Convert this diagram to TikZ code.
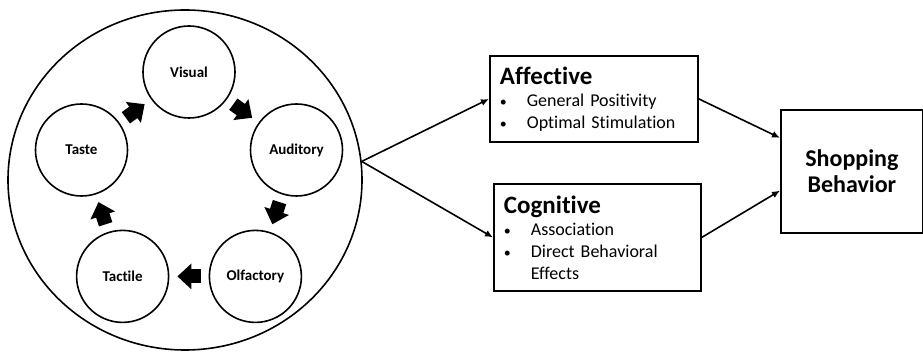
\documentclass[tikz,border=0pt]{standalone}
\usepackage{fontspec}
\setmainfont{Carlito}[Ligatures=CommonOff]
\usetikzlibrary{arrows.meta, positioning, shapes.geometric}

\newcommand{\dotitem}{{\fontsize{7}{7}\selectfont\textbullet}\hspace{10pt}}

\begin{document}
\begin{tikzpicture}[
      x=0.5pt, y=-0.5pt,
      sense/.style={circle, draw, line width=0.8pt, minimum size=46pt, inner sep=0pt, font=\fontsize{7.5}{9}\selectfont\bfseries},
      cycle/.style={line width=7pt, -{Triangle[length=7pt, width=12.5pt]}, shorten <=4pt, shorten >=4pt},
      infobox/.style={rectangle, draw, line width=0.9pt, anchor=north west, align=left, inner xsep=5pt, inner ysep=0pt, font=\fontsize{9}{11}\selectfont},
      outcome/.style={rectangle, draw, line width=0.9pt, anchor=north west, align=center, font=\fontsize{12}{13}\selectfont\bfseries},
      link/.style={line width=0.8pt, -{Latex[length=4pt, width=3.5pt]}},
    ]
      \useasboundingbox (0,0) rectangle (923,352);
      % five senses
      \node[ellipse, draw, line width=0.8pt, minimum width=177pt, minimum height=170pt, inner sep=0pt] (senses) at (185,180) {};
      \node[sense] (vis) at (189,72)    {Visual};
      \node[sense] (aud) at (296.5,150) {Auditory};
      \node[sense] (olf) at (255.4,276.4) {Olfactory};
      \node[sense] (tac) at (122.6,276.4) {Tactile};
      \node[sense] (tas) at (81.5,150)  {Taste};
      \draw[cycle] (vis) -- (aud);
      \draw[cycle] (aud) -- (olf);
      \draw[cycle] (olf) -- (tac);
      \draw[cycle] (tac) -- (tas);
      \draw[cycle] (tas) -- (vis);
      % responses
      \node[infobox, minimum width=104pt, minimum height=43pt, text width=94pt] (aff) at (489,55) {%
        {\fontsize{12.5}{13}\selectfont\bfseries Affective}\\
        \dotitem General Positivity\\
        \dotitem Optimal Stimulation};
      \node[infobox, minimum width=103.5pt, minimum height=53.5pt, text width=93.5pt] (cog) at (493,183) {%
        {\fontsize{12.5}{13}\selectfont\bfseries Cognitive}\\
        \dotitem Association\\
        \dotitem Direct Behavioral\\
        \phantom{\dotitem}Effects};
      \node[outcome, minimum width=71pt, minimum height=61.5pt] (shop) at (780,109) {Shopping\\Behavior};
      \draw[link] (senses.6) -- (aff.west);
      \draw[link] (senses.6) -- (cog.west);
      \draw[link] (aff.east) -- (shop.155);
      \draw[link] (cog.east) -- (shop.195);
    \end{tikzpicture}
\end{document}
